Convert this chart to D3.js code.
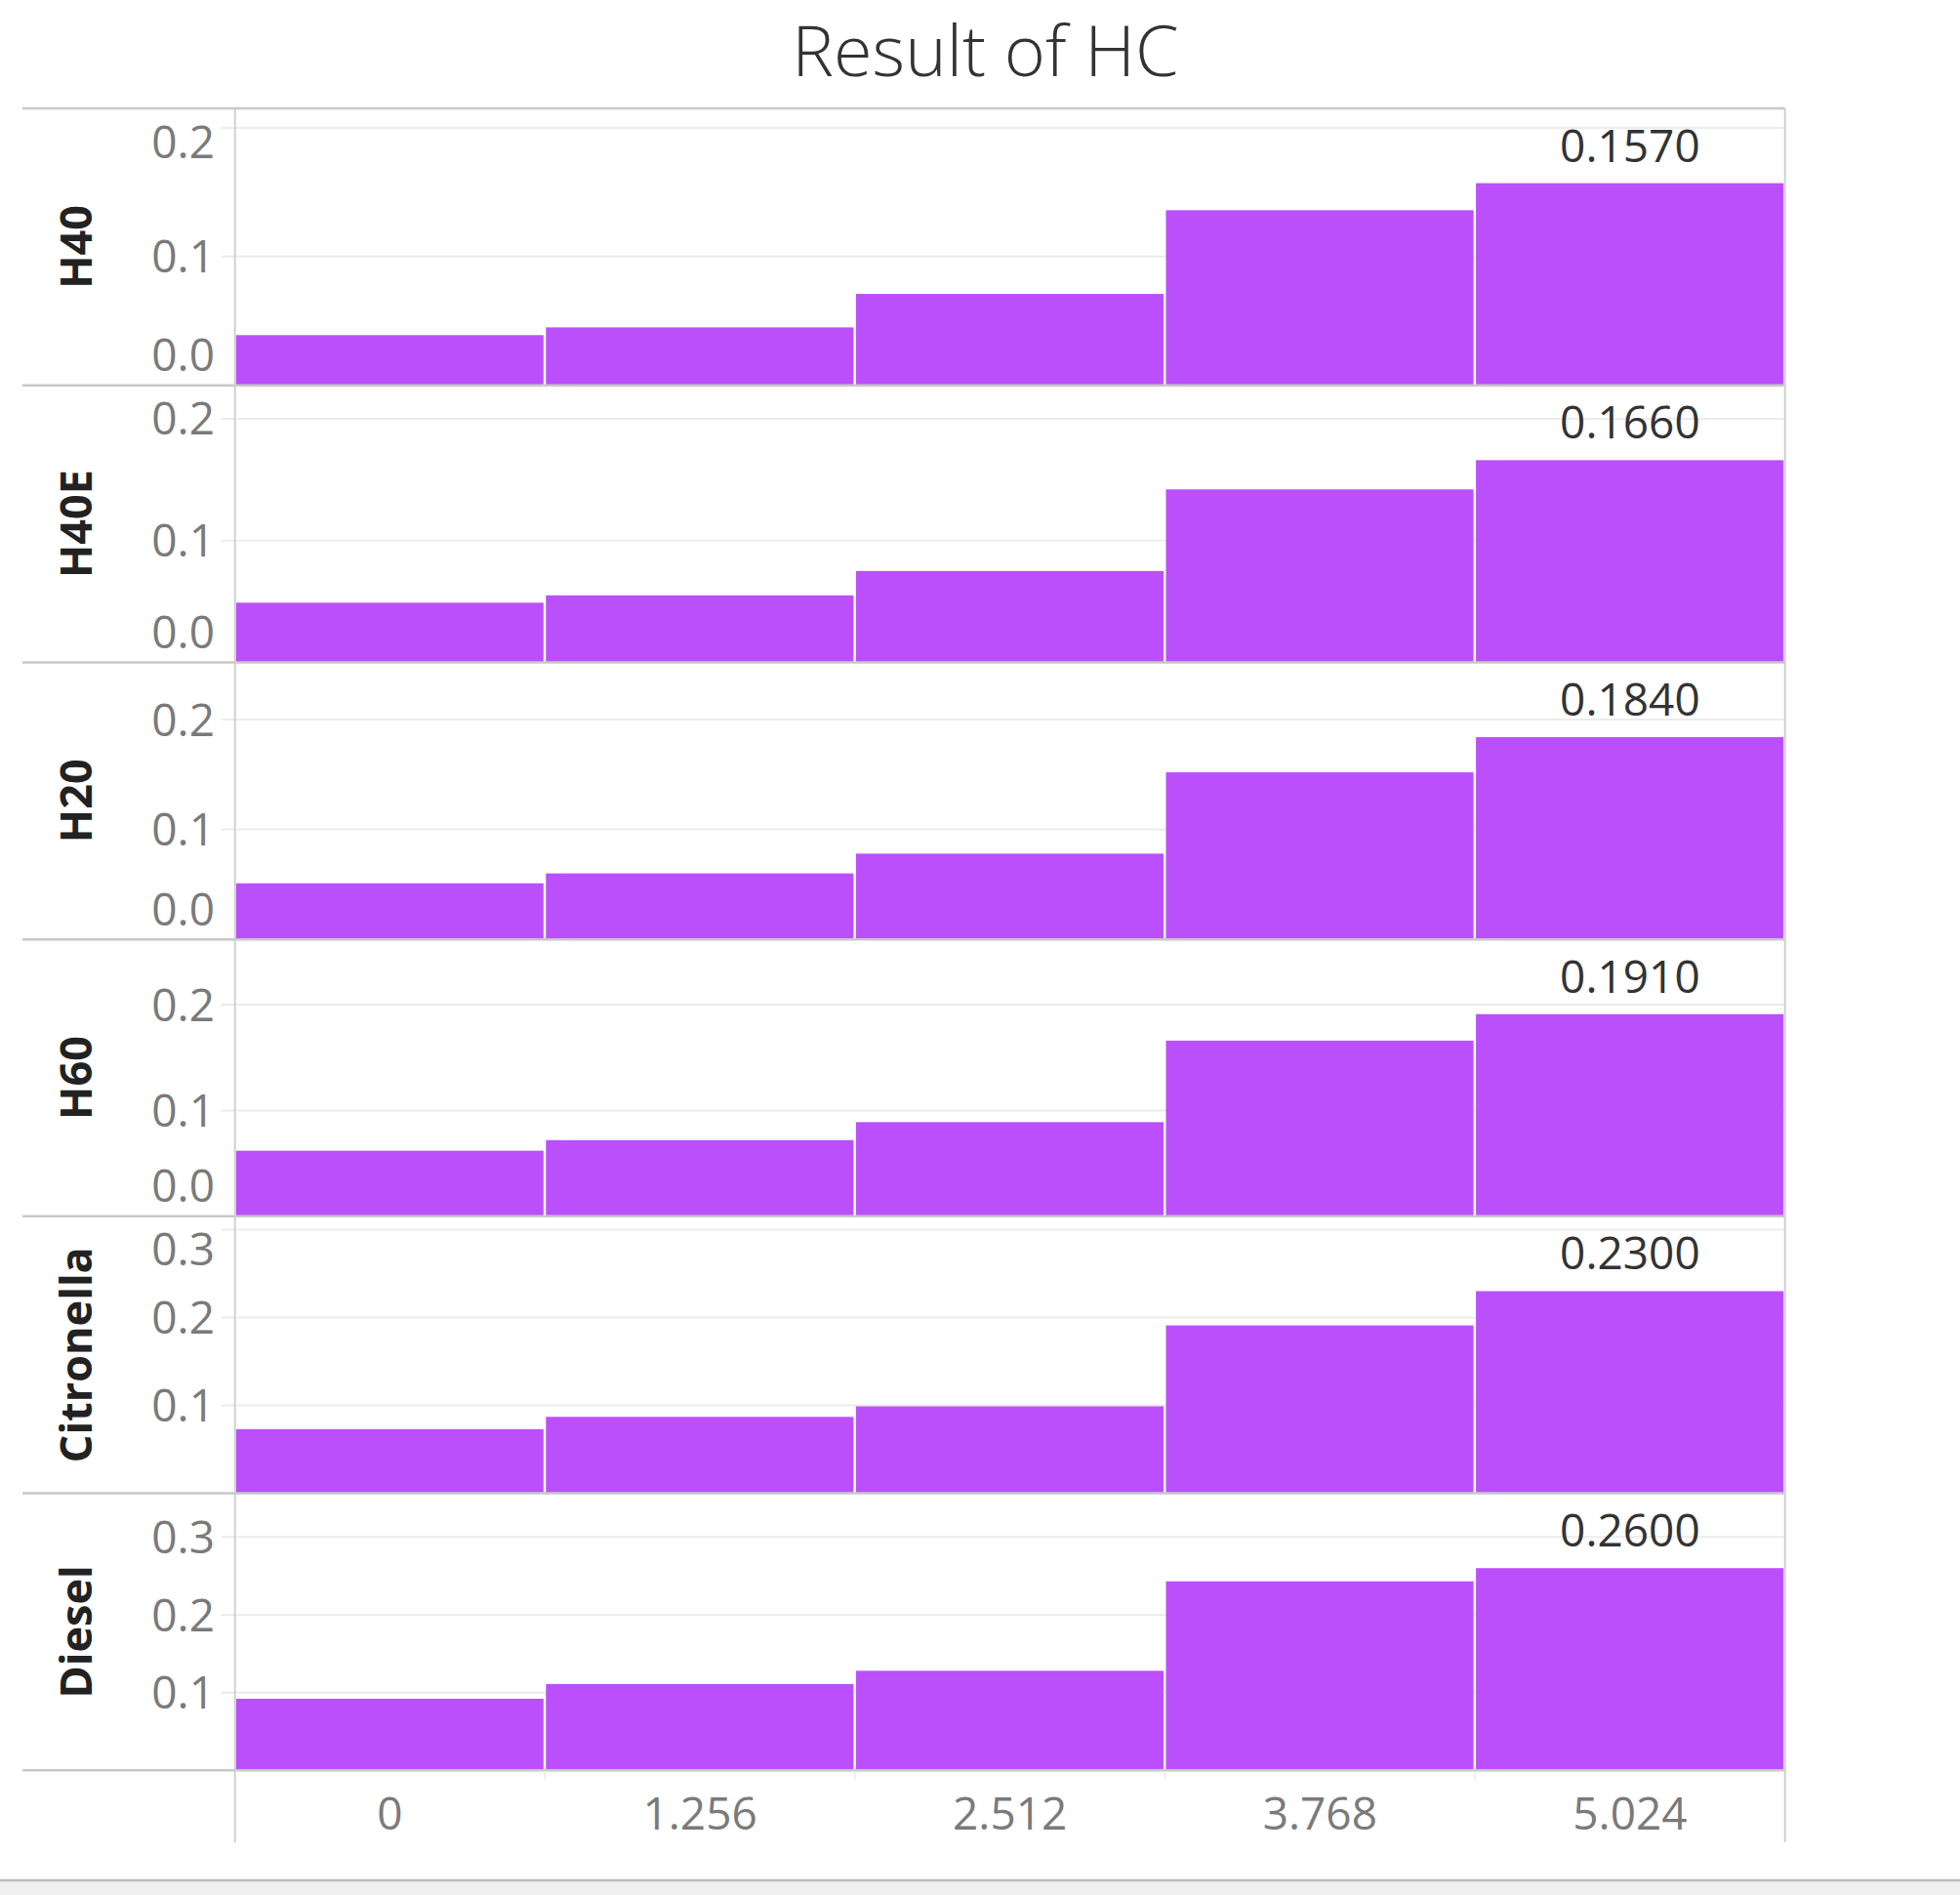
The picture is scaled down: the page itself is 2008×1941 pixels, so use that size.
<!DOCTYPE html>
<html>
<head>
<meta charset="utf-8">
<script src="https://cdn.jsdelivr.net/npm/d3@7"></script>
<style>
  html, body { margin: 0; padding: 0; background: #fff; }
  svg { display: block; }
</style>
</head>
<body>
<script>
// ---- data ----
const categories = ["H40", "H40E", "H20", "H60", "Citronella", "Diesel"];
const binLabels = ["0", "1.256", "2.512", "3.768", "5.024"];
const H40 = [0.039, 0.045, 0.071, 0.136, 0.157];
const H40E = [0.049, 0.055, 0.075, 0.142, 0.166];
const H20 = [0.051, 0.060, 0.078, 0.152, 0.184];
const H60 = [0.062, 0.072, 0.089, 0.166, 0.191];
const Citronella = [0.073, 0.087, 0.099, 0.191, 0.230];
const Diesel = [0.092, 0.111, 0.128, 0.243, 0.260];
const seriesValues = [H40, H40E, H20, H60, Citronella, Diesel];
const yTickValues = [
  [0, 0.1, 0.2], [0, 0.1, 0.2], [0, 0.1, 0.2], [0, 0.1, 0.2],
  [0.1, 0.2, 0.3], [0.1, 0.2, 0.3]
];
const titleText = "Result of HC";

// ---- layout ----
const W = 2008, H = 1941;
const headerLeft = 23, plotLeft = 240.7, plotRight = 1828.7;
const plotTop = 111, plotBottom = 1813.3, axisBottom = 1887;
const barColor = "#bc4ffc";
const fs = 46;

const svg = d3.select("body").append("svg").attr("width", W).attr("height", H);

// title
svg.append("text")
  .attr("x", 1009.5).attr("y", 78)
  .attr("text-anchor", "middle")
  .attr("font-family", "'Open Sans', sans-serif")
  .attr("font-weight", 300)
  .attr("font-size", 72)
  .attr("fill", "#333")
  .text(titleText);

const x = d3.scaleBand().domain(binLabels).range([plotLeft, plotRight]).paddingInner(0).paddingOuter(0);

const panelY = d3.scaleBand().domain(categories).range([plotTop, plotBottom]);

categories.forEach((cat, i) => {
  const vals = seriesValues[i];
  const top = panelY(cat), bottom = top + panelY.bandwidth();
  const y = d3.scaleLinear().domain([0, d3.max(vals) * 1.37]).range([bottom, top]);
  const g = svg.append("g");

  // gridlines
  yTickValues[i].filter(t => t > 0).forEach(t => {
    g.append("line")
      .attr("x1", plotLeft - 14).attr("x2", plotRight)
      .attr("y1", y(t)).attr("y2", y(t))
      .attr("stroke", "#ececec").attr("stroke-width", 2);
  });

  // bars
  g.selectAll("rect.bar").data(vals).join("rect")
    .attr("class", "bar")
    .attr("x", (d, j) => x(binLabels[j]) + 1)
    .attr("width", x.bandwidth() - 2.5)
    .attr("y", d => y(d))
    .attr("height", d => bottom - y(d))
    .attr("fill", barColor);

  // value label on last bar
  const last = vals.length - 1;
  g.append("text")
    .attr("x", x(binLabels[last]) + x.bandwidth() / 2)
    .attr("y", y(vals[last]) - 22)
    .attr("text-anchor", "middle")
    .attr("font-family", "'Open Sans', sans-serif")
    .attr("font-size", fs)
    .attr("fill", "#333")
    .text(d3.format(".4f")(vals[last]));

  // y tick labels (kept inside the panel)
  yTickValues[i].forEach(t => {
    const c = Math.max(top + 34, Math.min(bottom - 31, y(t)));
    g.append("text")
      .attr("x", 220).attr("y", c + fs * 0.36)
      .attr("text-anchor", "end")
      .attr("font-family", "'Open Sans', sans-serif")
      .attr("font-size", fs)
      .attr("fill", "#7a7a7a")
      .text(d3.format(".1f")(t));
  });

  // row header
  g.append("text")
    .attr("transform", `translate(76,${(top + bottom) / 2}) rotate(-90)`)
    .attr("text-anchor", "middle")
    .attr("dominant-baseline", "central")
    .attr("font-family", "'Open Sans', sans-serif")
    .attr("font-weight", 700)
    .attr("font-size", 45)
    .attr("fill", "#222")
    .text(cat);
});

// panel separators
const seps = categories.map(c => panelY(c)).concat([plotBottom]);
svg.selectAll("line.sep").data(seps).join("line")
  .attr("class", "sep")
  .attr("x1", headerLeft).attr("x2", plotRight)
  .attr("y1", d => d).attr("y2", d => d)
  .attr("stroke", "#c8c8c8").attr("stroke-width", 2.5);

// vertical axis line and right border
[plotLeft, plotRight].forEach(xx => {
  svg.append("line")
    .attr("x1", xx).attr("x2", xx)
    .attr("y1", plotTop).attr("y2", axisBottom)
    .attr("stroke", "#d0d0d0").attr("stroke-width", 2);
});

// faint tick marks at bin boundaries
binLabels.slice(1).forEach(b => {
  svg.append("line")
    .attr("x1", x(b)).attr("x2", x(b))
    .attr("y1", plotBottom + 1).attr("y2", plotBottom + 10)
    .attr("stroke", "#eeeeee").attr("stroke-width", 2);
});

// x axis labels
svg.selectAll("text.xl").data(binLabels).join("text")
  .attr("class", "xl")
  .attr("x", d => x(d) + x.bandwidth() / 2)
  .attr("y", 1857 + fs * 0.36)
  .attr("text-anchor", "middle")
  .attr("font-family", "'Open Sans', sans-serif")
  .attr("font-size", fs)
  .attr("fill", "#7a7a7a")
  .text(d => d);

// bottom strip
svg.append("rect").attr("x", 0).attr("y", 1926).attr("width", W).attr("height", H - 1926).attr("fill", "#f0f0f0");
svg.append("line").attr("x1", 0).attr("x2", W).attr("y1", 1926).attr("y2", 1926)
  .attr("stroke", "#bdbdbd").attr("stroke-width", 2.5);
</script>
</body>
</html>
